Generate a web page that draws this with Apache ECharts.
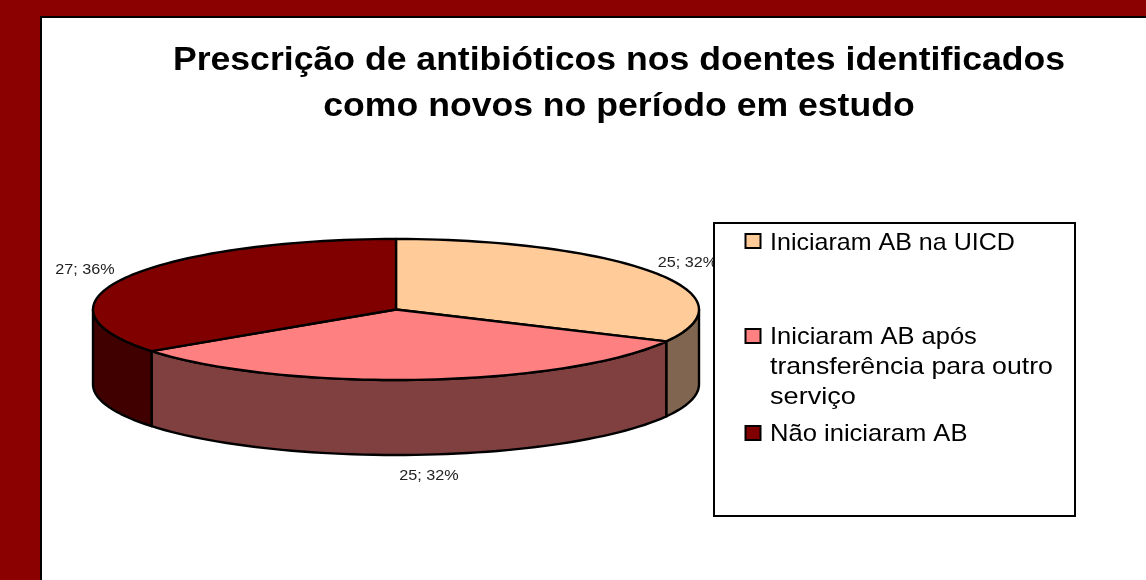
<!DOCTYPE html>
<html>
<head>
<meta charset="utf-8">
<style>html,body{margin:0;padding:0;background:#8B0000}#c{width:1146px;height:580px}</style>
<script src="https://cdn.jsdelivr.net/npm/echarts@6/dist/echarts.min.js"></script>
</head>
<body>
<div id="c"></div>
<script>
const titleLines = ['Prescrição de antibióticos nos doentes identificados', 'como novos no período em estudo'];
const categories = ['Iniciaram AB na UICD', 'Iniciaram AB após\ntransferência para outro\nserviço', 'Não iniciaram AB'];
const values = [25, 25, 27];
const percents = ['32%', '32%', '36%'];
const topColors = ['#FFCC99', '#FF8080', '#800000'];
const sideColors = ['#806650', '#804040', '#400000'];

const CX = 396, CY = 309.5, RX = 303, RY = 70.5, DEPTH = 75;
const labelPos = [[687.5, 263], [429, 475.5], [85, 269.5]];
const legendTextY = [243, 337, 434];
const legendSwatchY = [234, 329, 426];
const legendLineScale = { 'Iniciaram AB na UICD': 1.043, 'Iniciaram AB após': 1.062,
  'transferência para outro': 1.11, 'serviço': 1.13, 'Não iniciaram AB': 1.065 };

const total = values.reduce((a, b) => a + b, 0);
const pt = (deg, dy) => {
  const r = deg * Math.PI / 180;
  return [CX + RX * Math.sin(r), CY - RY * Math.cos(r) + dy];
};
const arc = (a, b, dy) => {
  const n = Math.max(2, Math.ceil((b - a) / 2));
  const out = [];
  for (let i = 0; i <= n; i++) out.push(pt(a + (b - a) * i / n, dy));
  return out;
};

function renderSlice(params, api) {
  const i = params.dataIndex;
  let before = 0;
  for (let k = 0; k < i; k++) before += values[k];
  const a0 = before / total * 360;
  const a1 = (before + api.value(0)) / total * 360;
  const children = [];
  const stroke = { stroke: '#000', lineWidth: 2.4, lineJoin: 'round' };
  const s0 = Math.max(a0, 90), s1 = Math.min(a1, 270);
  if (s1 > s0) {
    const upper = arc(s0, s1, 0);
    const lower = arc(s0, s1, DEPTH).reverse();
    children.push({
      type: 'polygon', z2: 1,
      shape: { points: upper.concat(lower) },
      style: Object.assign({ fill: sideColors[i] }, stroke)
    });
  }
  children.push({
    type: 'polygon', z2: 2,
    shape: { points: [[CX, CY]].concat(arc(a0, a1, 0)) },
    style: Object.assign({ fill: topColors[i] }, stroke)
  });
  children.push({
    type: 'text', z2: 3,
    x: labelPos[i][0], y: labelPos[i][1], scaleX: 1.08,
    style: {
      text: api.value(0) + '; ' + percents[i],
      x: 0, y: 0,
      align: 'center', verticalAlign: 'middle',
      font: '15px "Liberation Sans", Arial, sans-serif', fill: '#222'
    }
  });
  return { type: 'group', children };
}

const graphicEls = [
  { type: 'rect', z: -10, shape: { x: 41, y: 17, width: 1200, height: 700 },
    style: { fill: '#fff', stroke: '#000', lineWidth: 2 } },
  { type: 'rect', z: 20, shape: { x: 714, y: 223, width: 361, height: 293 },
    style: { fill: '#fff', stroke: '#000', lineWidth: 2 } }
];
titleLines.forEach((t, i) => graphicEls.push({
  type: 'text', z: 20,
  x: 619, y: 61 + i * 46, scaleX: 1.047,
  style: { text: t, x: 0, y: 0, align: 'center', verticalAlign: 'middle',
    font: 'bold 34px "Liberation Sans", Arial, sans-serif', fill: '#000' }
}));
categories.forEach((c, i) => {
  graphicEls.push({
    type: 'rect', z: 21,
    shape: { x: 745.5, y: legendSwatchY[i], width: 15, height: 14 },
    style: { fill: topColors[i], stroke: '#000', lineWidth: 2 }
  });
  c.split('\n').forEach((line, j) => graphicEls.push({
    type: 'text', z: 21,
    x: 770, y: legendTextY[i] + j * 30, scaleX: legendLineScale[line],
    style: { text: line, x: 0, y: 0, align: 'left', verticalAlign: 'middle',
      font: '24px "Liberation Sans", Arial, sans-serif', fill: '#000' }
  }));
});

const chart = echarts.init(document.getElementById('c'), null, { renderer: 'canvas' });
chart.setOption({
  animation: false,
  backgroundColor: '#8B0000',
  graphic: { elements: graphicEls },
  series: [{
    type: 'custom',
    coordinateSystem: 'none',
    z: 5,
    renderItem: renderSlice,
    data: values.map((v, i) => ({ name: categories[i], value: [v] }))
  }]
});
</script>
</body>
</html>
